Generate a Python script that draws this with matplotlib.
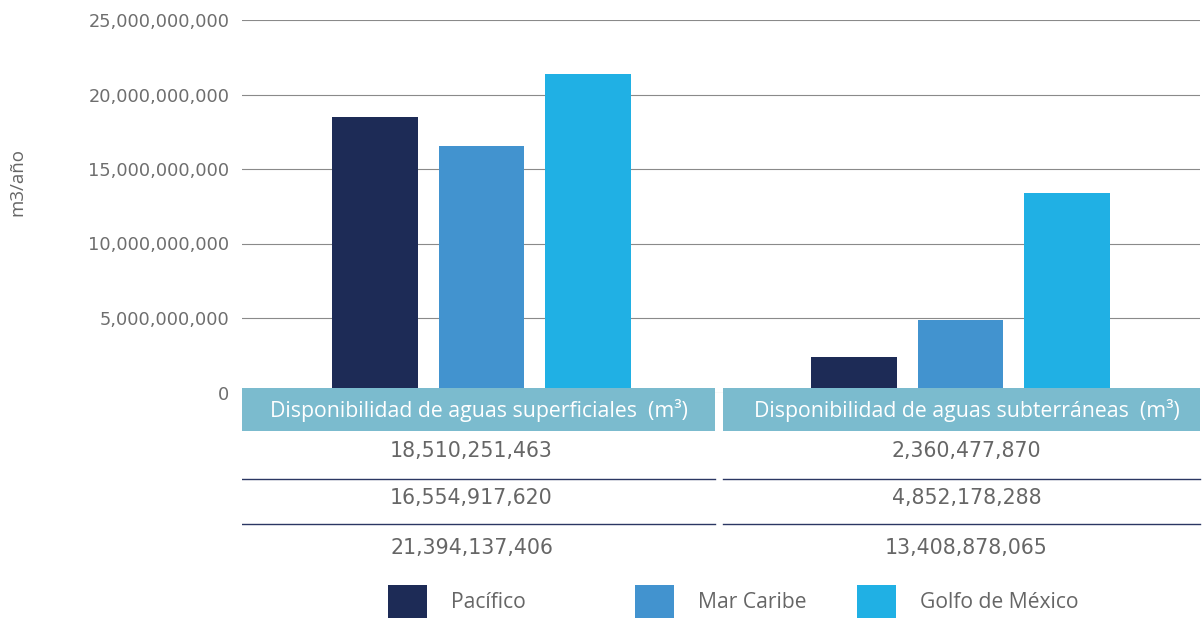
import matplotlib
matplotlib.use("Agg")
import matplotlib.pyplot as plt
from matplotlib.patches import Rectangle

categories = ["Disponibilidad de aguas superficiales  (m³)",
              "Disponibilidad de aguas subterráneas  (m³)"]
series = ["Pacífico", "Mar Caribe", "Golfo de México"]
pacifico = [18510251463, 2360477870]
mar_caribe = [16554917620, 4852178288]
golfo = [21394137406, 13408878065]
yticks = [0, 5e9, 10e9, 15e9, 20e9, 25e9]
ylabel = "m3/año"

colors = ["#1D2B56", "#4293CF", "#20B0E4"]
band_color = "#7BBBCE"
line_color = "#2B3763"
text_gray = "#666666"

plt.rcParams['font.family'] = ['Open Sans', 'DejaVu Sans']
num_font = ['DejaVu Sans']

W, H = 1202, 618
fig = plt.figure(figsize=(W / 100, H / 100), dpi=100)

def fx(px):
    return px / W

def fy(py):
    return 1 - py / H

# main axes
ax = fig.add_axes([fx(242), fy(392.5), fx(1200) - fx(242), fy(20) - fy(392.5)])
ax.set_xlim(-0.5, 1.5)
ax.set_ylim(0, 25e9)
values = [pacifico, mar_caribe, golfo]
bw = 0.179
step = 0.223
for i, (vals, c) in enumerate(zip(values, colors)):
    xs = [k + (i - 1) * step for k in range(len(categories))]
    ax.bar(xs, vals, width=bw, color=c, zorder=2)
ax.set_yticks(yticks)
ax.set_yticklabels([f"{int(v):,}" for v in yticks], fontsize=12.8,
                   color="#6e6e6e", family=num_font)
ax.tick_params(axis='y', length=0, pad=9)
ax.set_xticks([])
for s in ax.spines.values():
    s.set_visible(False)
ax.grid(axis='y', color="#8a8a8a", linewidth=0.8, zorder=0)
ax.set_ylabel(ylabel, fontsize=13.5, color=text_gray)
ax.yaxis.set_label_coords((26 - 242) / 958, 0.565)

# table axes
tx = fig.add_axes([fx(242), fy(570), fx(1202) - fx(242), fy(388) - fy(570)])
tx.set_xlim(-0.5, 1.5 + 2 / 480)
tx.set_ylim(570, 388)
tx.axis('off')
def px2x(p):
    return (p - 242) / 480 - 0.5
ranges = [(px2x(242), px2x(716)), (px2x(724), px2x(1202))]
head_cx = [px2x(479), px2x(968)]
val_cx = [px2x(472), px2x(968)]
for k, (x0, x1) in enumerate(ranges):
    tx.add_patch(Rectangle((x0, 388), x1 - x0, 43, color=band_color, lw=0))
    tx.text(head_cx[k], 411, categories[k], ha='center', va='center',
            fontsize=15.3, color='white')
    for yl in (479, 524):
        tx.plot([x0, x1], [yl, yl], color=line_color, lw=1.0)
    for vals, yr in zip(values, (451, 498, 548)):
        tx.text(val_cx[k], yr, f"{vals[k]:,}", ha='center', va='center',
                fontsize=14.8, color=text_gray, family=num_font)

# legend
sq_x = [388, 635, 857]
for px, c, name in zip(sq_x, colors, series):
    fig.patches.append(Rectangle((fx(px), fy(618)), fx(39), 33 / H, color=c,
                                 transform=fig.transFigure, figure=fig, lw=0))
    fig.text(fx(px + 63), fy(603), name, ha='left', va='center', fontsize=15.2,
             color=text_gray)

fig.savefig("out.png", dpi=100)
